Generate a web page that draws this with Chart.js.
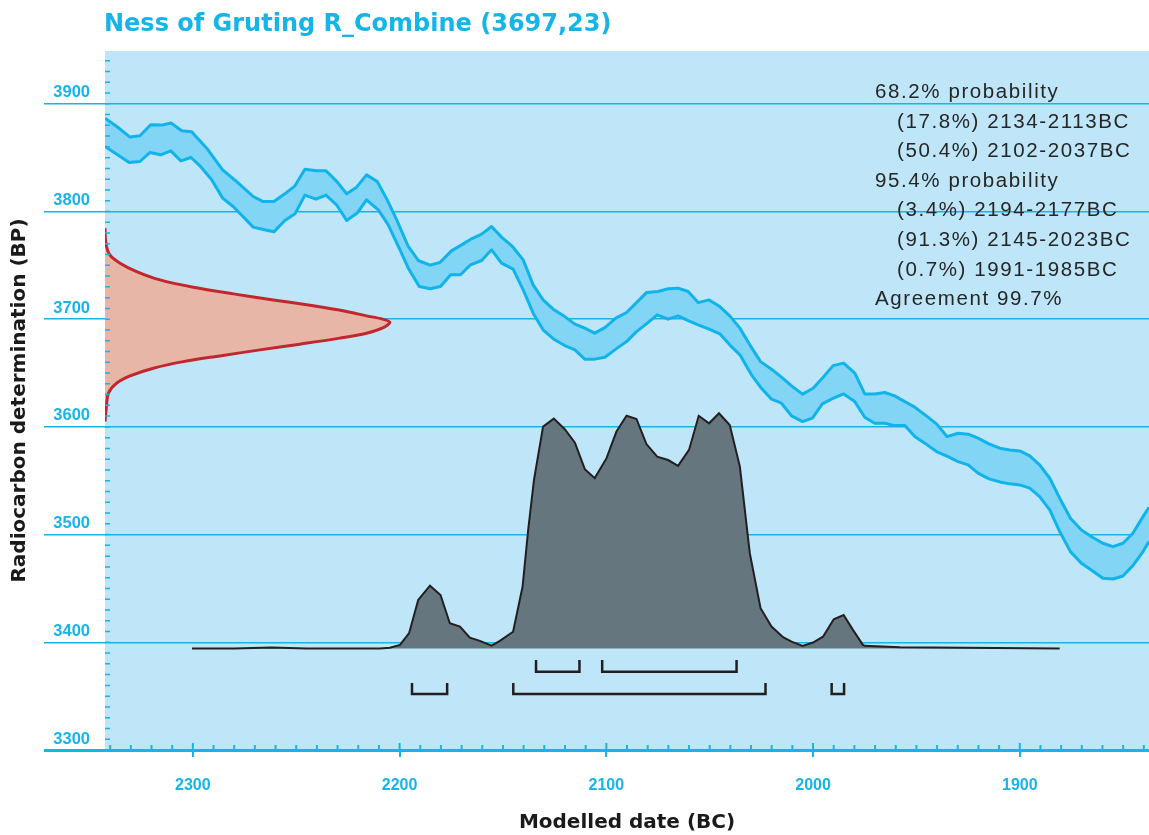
<!DOCTYPE html>
<html>
<head>
<meta charset="utf-8">
<title>Ness of Gruting R_Combine</title>
<script src="https://cdn.jsdelivr.net/npm/chart.js@4"></script>
<style>
  html, body { margin: 0; padding: 0; background: #fff; }
  #wrap { position: relative; width: 1149px; height: 835px; }
</style>
</head>
<body>
<div id="wrap"><canvas id="oxcalChart" width="1149" height="835"></canvas></div>
<script>
const chartTitle = 'Ness of Gruting R_Combine (3697,23)';

// calibration curve band, upper edge (date BC / radiocarbon age BP)
const calUpperDates = [2342.5, 2336.8, 2330.4, 2325.6, 2320.4, 2315.1, 2310.6, 2305.4, 2300.6, 2293.3,
  2285.6, 2278.8, 2270.8, 2266.0, 2260.8, 2255.5, 2250.6, 2245.8, 2240.1, 2235.6,
  2230.8, 2225.6, 2220.8, 2216.0, 2210.8, 2206.0, 2201.4, 2195.8, 2191.0, 2185.3,
  2180.5, 2174.8, 2170.0, 2165.2, 2160.3, 2155.5, 2150.7, 2145.4, 2140.2, 2135.4,
  2130.6, 2125.7, 2120.1, 2115.2, 2110.4, 2105.6, 2100.7, 2095.4, 2090.2, 2085.4,
  2080.6, 2075.0, 2070.1, 2065.3, 2060.4, 2055.6, 2050.3, 2045.1, 2040.3, 2035.4,
  2030.6, 2025.4, 2020.1, 2015.3, 2010.4, 2005.1, 2000.0, 1995.2, 1990.3, 1985.2,
  1979.8, 1975.0, 1970.2, 1965.3, 1960.5, 1955.6, 1950.8, 1945.2, 1940.3, 1935.2,
  1929.9, 1925.0, 1920.2, 1914.9, 1909.7, 1904.9, 1900.0, 1895.2, 1890.4, 1885.5,
  1880.7, 1875.5, 1870.2, 1864.9, 1859.8, 1854.9, 1850.1, 1845.3, 1840.4, 1837.5];
const calUpperBP = [3886.7, 3878.9, 3869.1, 3870.3, 3880.5, 3880.2, 3882.1, 3874.9, 3874.0, 3858.8,
  3838.7, 3827.8, 3813.9, 3809.2, 3809.2, 3816.4, 3823.8, 3839.3, 3837.8, 3837.8,
  3828.7, 3816.4, 3822.6, 3834.0, 3827.8, 3810.8, 3792.2, 3767.5, 3754.5, 3750.2,
  3752.6, 3763.7, 3769.0, 3774.6, 3779.0, 3786.0, 3776.2, 3767.5, 3755.1, 3731.9,
  3717.9, 3709.3, 3702.4, 3695.4, 3691.7, 3687.0, 3692.2, 3701.0, 3706.2, 3715.4,
  3724.7, 3725.7, 3728.2, 3728.8, 3725.7, 3715.4, 3717.9, 3711.7, 3703.1, 3691.7,
  3676.2, 3660.6, 3653.6, 3646.2, 3638.1, 3630.4, 3635.9, 3645.8, 3656.9, 3659.2,
  3649.9, 3630.6, 3630.6, 3631.9, 3628.8, 3623.5, 3618.3, 3610.2, 3602.8, 3591.0,
  3594.1, 3593.2, 3589.5, 3584.2, 3580.2, 3578.6, 3577.7, 3573.1, 3564.7, 3552.3,
  3533.8, 3515.2, 3504.3, 3497.5, 3492.0, 3488.8, 3492.0, 3501.3, 3516.7, 3525.4];

// calibration curve band, lower edge
const calLowerDates = [2342.5, 2337.7, 2330.8, 2325.6, 2320.7, 2315.6, 2310.7, 2305.8, 2300.9, 2296.6,
  2290.9, 2285.6, 2280.5, 2270.8, 2266.0, 2260.8, 2255.5, 2250.6, 2245.8, 2240.5,
  2235.6, 2230.5, 2225.6, 2220.5, 2216.0, 2210.3, 2205.5, 2199.8, 2195.8, 2190.5,
  2185.3, 2180.2, 2175.3, 2170.5, 2165.7, 2160.3, 2155.5, 2150.7, 2145.1, 2140.2,
  2135.4, 2130.6, 2125.4, 2120.1, 2115.2, 2110.4, 2105.6, 2100.7, 2095.4, 2090.2,
  2085.4, 2080.6, 2075.4, 2070.1, 2065.3, 2060.4, 2055.6, 2050.3, 2045.1, 2040.3,
  2035.4, 2029.8, 2025.4, 2020.1, 2015.3, 2010.4, 2005.1, 2000.3, 1995.5, 1990.3,
  1985.2, 1979.8, 1975.0, 1970.2, 1965.3, 1960.5, 1955.6, 1950.8, 1946.0, 1940.3,
  1934.7, 1929.9, 1925.0, 1920.2, 1914.9, 1909.7, 1904.9, 1900.0, 1895.2, 1890.4,
  1885.5, 1880.7, 1875.5, 1870.2, 1864.9, 1859.8, 1854.9, 1850.1, 1845.3, 1840.4, 1837.5];
const calLowerBP = [3860.3, 3854.2, 3845.5, 3846.4, 3854.8, 3852.6, 3856.3, 3847.0, 3850.1, 3842.4,
  3829.4, 3812.4, 3804.6, 3785.5, 3783.2, 3781.1, 3791.6, 3797.8, 3815.2, 3811.5,
  3815.2, 3806.2, 3791.6, 3798.5, 3810.8, 3801.5, 3787.6, 3764.4, 3747.4, 3730.3,
  3728.2, 3730.3, 3741.2, 3741.2, 3750.5, 3754.5, 3764.4, 3752.0, 3746.5, 3727.2,
  3705.6, 3690.1, 3681.4, 3675.5, 3671.5, 3662.9, 3662.9, 3664.7, 3672.2, 3679.2,
  3688.5, 3695.7, 3704.0, 3700.0, 3703.1, 3698.7, 3694.7, 3690.7, 3686.4, 3676.2,
  3666.9, 3648.3, 3636.9, 3625.7, 3622.0, 3610.2, 3604.9, 3608.1, 3621.4, 3626.6,
  3630.6, 3623.5, 3609.0, 3603.4, 3603.4, 3601.2, 3601.2, 3591.0, 3584.9, 3577.1,
  3572.4, 3567.8, 3564.7, 3557.0, 3551.7, 3548.9, 3547.1, 3546.1, 3543.1, 3535.3,
  3522.9, 3502.8, 3484.2, 3473.4, 3466.5, 3459.5, 3458.8, 3461.6, 3471.2, 3484.2, 3493.5];

// radiocarbon measurement (likelihood on the BP axis), relative probability
const likeBP = [3604.9, 3618.8, 3631.3, 3640.6, 3647.4, 3654.5, 3660.6, 3665.9, 3671.5, 3676.8,
  3682.4, 3687.0, 3692.2, 3697.2, 3700.3, 3703.1, 3707.1, 3712.4, 3717.9, 3723.5,
  3729.7, 3736.5, 3744.2, 3752.0, 3759.7, 3770.6, 3784.5];
const likeProb = [0, 0.005, 0.012, 0.041, 0.088, 0.170, 0.275, 0.403, 0.544, 0.684,
  0.824, 0.918, 0.977, 1.0, 0.971, 0.918, 0.848, 0.731, 0.591, 0.451,
  0.310, 0.193, 0.111, 0.053, 0.017, 0.003, 0];

// modelled date (posterior), relative probability
const postDates = [2300.4, 2280.0, 2262.0, 2245.0, 2209.5, 2204.7, 2199.8, 2195.4, 2191.0, 2185.3,
  2180.2, 2175.7, 2170.8, 2166.0, 2161.2, 2155.5, 2151.5, 2145.1, 2140.5, 2137.8,
  2135.0, 2130.6, 2125.4, 2120.1, 2115.2, 2110.4, 2105.6, 2099.9, 2095.1, 2090.2,
  2085.4, 2080.6, 2075.4, 2070.1, 2065.3, 2060.0, 2055.3, 2050.3, 2045.5, 2040.3,
  2035.4, 2030.6, 2025.4, 2020.1, 2014.5, 2010.4, 2005.1, 2000.0, 1995.2, 1990.0,
  1985.2, 1980.7, 1975.9, 1975.0, 1958.1, 1880.7];
const postProb = [0, 0, 0.004, 0, 0, 0.003, 0.015, 0.065, 0.206, 0.267,
  0.227, 0.107, 0.093, 0.046, 0.032, 0.012, 0.032, 0.071, 0.263, 0.504,
  0.716, 0.943, 0.977, 0.932, 0.875, 0.762, 0.724, 0.809, 0.922, 0.989,
  0.975, 0.869, 0.815, 0.801, 0.776, 0.844, 0.989, 0.957, 1.0, 0.950,
  0.773, 0.405, 0.171, 0.093, 0.048, 0.029, 0.011, 0.025, 0.050, 0.124,
  0.142, 0.079, 0.015, 0.011, 0.005, 0];

// highest probability ranges (BC)
const range68 = [[2134, 2113], [2102, 2037]];
const range95 = [[2194, 2177], [2145, 2023], [1991, 1985]];

const infoLines = [
  ['68.2% probability', false],
  ['(17.8%) 2134-2113BC', true],
  ['(50.4%) 2102-2037BC', true],
  ['95.4% probability', false],
  ['(3.4%) 2194-2177BC', true],
  ['(91.3%) 2145-2023BC', true],
  ['(0.7%) 1991-1985BC', true],
  ['Agreement 99.7%', false]
];

const xLabels = [2300, 2200, 2100, 2000, 1900];
const yLabels = [3300, 3400, 3500, 3600, 3700, 3800, 3900];

// axis extents and drawing constants
const xLeft = 2342.5, xRight = 1837.5;
const yBottom = 3300, yTop = 3949;
const likeReach = 137.8;          // years the likelihood peak reaches into the plot
const postBase = 3394.3, postHeight = 218.4;
const blue = '#15b4e9';
const clear = 'rgba(0,0,0,0)';

function bracketPoints(ranges, top, bottom) {
  const pts = [];
  ranges.forEach(([a, b]) => {
    pts.push({x: a, y: top}, {x: a, y: bottom}, {x: b, y: bottom}, {x: b, y: top}, {x: b, y: null});
  });
  return pts;
}

const plotBackground = {
  id: 'plotBackground',
  beforeDraw(chart) {
    const {ctx, chartArea: a} = chart;
    ctx.save();
    ctx.fillStyle = '#bee6f8';
    ctx.fillRect(a.left, a.top, a.right - a.left, a.bottom - a.top);
    ctx.restore();
  }
};

const textBlock = {
  id: 'textBlock',
  beforeDatasetsDraw(chart) {
    const ctx = chart.ctx;
    ctx.save();
    ctx.textAlign = 'left';
    ctx.textBaseline = 'alphabetic';
    ctx.fillStyle = blue;
    ctx.font = 'bold 24px "DejaVu Sans"';
    ctx.fillText(chartTitle, 104, 31);
    ctx.fillStyle = '#262626';
    ctx.font = '20.5px "Liberation Sans"';
    ctx.letterSpacing = '1.6px';
    infoLines.forEach(([txt, indent], i) => {
      ctx.fillText(txt, indent ? 897 : 875, 98 + i * 29.6);
    });
    ctx.restore();
  }
};

const minorTicks = {
  id: 'minorTicks',
  afterDraw(chart) {
    const {ctx, chartArea: a, scales: {x, y}} = chart;
    ctx.save();
    ctx.strokeStyle = blue;
    ctx.lineWidth = 1.5;
    ctx.beginPath();
    for (let v = yBottom + 10; v < yTop; v += 10) {
      const py = y.getPixelForValue(v);
      ctx.moveTo(a.left, py);
      ctx.lineTo(a.left + 5, py);
    }
    ctx.stroke();
    ctx.beginPath();
    for (let v = 1840; v <= 2340; v += 10) {
      const px = x.getPixelForValue(v);
      ctx.moveTo(px, a.bottom);
      ctx.lineTo(px, a.bottom - (v % 100 === 0 ? 7 : 5));
    }
    ctx.lineWidth = 2;
    ctx.stroke();
    ctx.restore();
  }
};

const ctx = document.getElementById('oxcalChart');
new Chart(ctx, {
  type: 'line',
  data: {
    datasets: [
      {
        label: '68.2%',
        data: bracketPoints(range68, 3383.6, 3372.7),
        borderColor: '#231f20',
        borderWidth: 2.5,
        borderJoinStyle: 'miter',
        fill: false,
        tension: 0
      },
      {
        label: '95.4%',
        data: bracketPoints(range95, 3362.2, 3352.0),
        borderColor: '#231f20',
        borderWidth: 2.5,
        borderJoinStyle: 'miter',
        fill: false,
        tension: 0
      },
      {
        label: 'Posterior',
        data: postDates.map((d, i) => ({x: d, y: postBase + postProb[i] * postHeight})),
        borderColor: '#231f20',
        borderWidth: 2,
        backgroundColor: '#66767e',
        fill: {value: postBase},
        tension: 0
      },
      {
        label: 'R_Combine',
        indexAxis: 'y',
        data: likeBP.map((bp, i) => ({x: xLeft - likeProb[i] * likeReach, y: bp})),
        borderColor: '#c1272d',
        borderWidth: 3,
        backgroundColor: '#e7b6a6',
        fill: {value: xLeft},
        tension: 0.3
      },
      {
        label: 'Calibration upper',
        data: calUpperDates.map((d, i) => ({x: d, y: calUpperBP[i]})),
        borderColor: '#10b3ea',
        borderWidth: 3,
        borderJoinStyle: 'round',
        fill: false,
        tension: 0
      },
      {
        label: 'Calibration lower',
        data: calLowerDates.map((d, i) => ({x: d, y: calLowerBP[i]})),
        borderColor: '#10b3ea',
        borderWidth: 3,
        borderJoinStyle: 'round',
        backgroundColor: '#82d5f5',
        fill: '-1',
        tension: 0
      }
    ]
  },
  options: {
    responsive: false,
    animation: false,
    devicePixelRatio: 1,
    layout: { padding: { top: 51, left: 0, right: 0, bottom: 0 }, autoPadding: false },
    elements: { point: { radius: 0, hoverRadius: 0 } },
    plugins: {
      legend: { display: false },
      tooltip: { enabled: false },
      title: { display: false }
    },
    scales: {
      x: {
        type: 'linear',
        reverse: true,
        min: xRight,
        max: xLeft,
        afterFit: s => { s.height = 85; s.paddingLeft = 0; s.paddingRight = 0; },
        border: { display: false },
        grid: {
          drawOnChartArea: false,
          tickLength: 7,
          lineWidth: 2,
          color: c => (c.tick && xLabels.includes(c.tick.value)) ? blue : clear
        },
        ticks: {
          stepSize: 10,
          autoSkip: false,
          maxRotation: 0,
          includeBounds: false,
          padding: 19,
          color: blue,
          font: { family: 'Liberation Sans', weight: 'bold', size: 16 },
          callback: v => xLabels.includes(v) ? String(v) : ''
        },
        title: {
          display: true,
          text: 'Modelled date (BC)',
          color: '#1a1a1a',
          font: { family: 'DejaVu Sans', weight: 'bold', size: 20 },
          padding: { top: 0, bottom: 0 }
        }
      },
      y: {
        type: 'linear',
        min: yBottom,
        max: yTop,
        z: 1,
        afterFit: s => { s.width = 105; s.paddingTop = 0; s.paddingBottom = 0; },
        border: { display: false },
        grid: {
          tickLength: 61,
          color: c => (c.tick && yLabels.includes(c.tick.value)) ? blue : clear,
          lineWidth: c => (c.tick && c.tick.value === yBottom) ? 3 : 1.5
        },
        ticks: {
          stepSize: 10,
          autoSkip: false,
          includeBounds: false,
          padding: -46,
          labelOffset: -11,
          color: blue,
          font: { family: 'Liberation Sans', weight: 'bold', size: 16.5 },
          callback: v => yLabels.includes(v) ? String(v) : ''
        },
        title: {
          display: true,
          text: 'Radiocarbon determination (BP)',
          color: '#1a1a1a',
          font: { family: 'DejaVu Sans', weight: 'bold', size: 20 },
          padding: { top: 8, bottom: 0 }
        }
      }
    }
  },
  plugins: [plotBackground, textBlock, minorTicks]
});
</script>
</body>
</html>
